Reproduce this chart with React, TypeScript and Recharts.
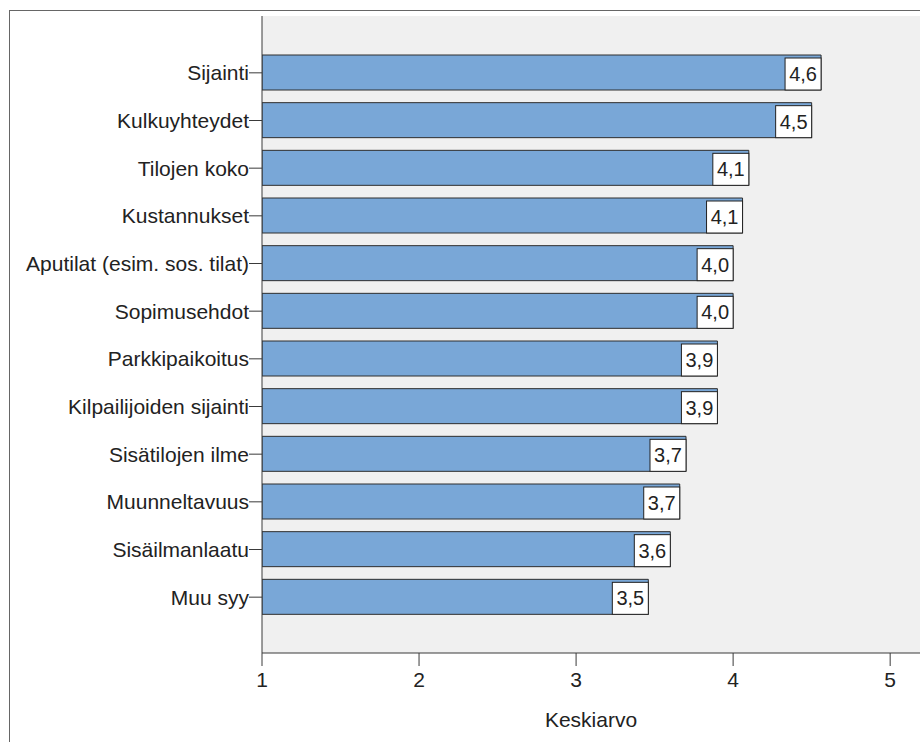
import { BarChart, Bar, XAxis, YAxis, CartesianGrid, LabelList } from 'recharts';

// Mean score per location factor
const factors = [
    'Sijainti',
    'Kulkuyhteydet',
    'Tilojen koko',
    'Kustannukset',
    'Aputilat (esim. sos. tilat)',
    'Sopimusehdot',
    'Parkkipaikoitus',
    'Kilpailijoiden sijainti',
    'Sisätilojen ilme',
    'Muunneltavuus',
    'Sisäilmanlaatu',
    'Muu syy',
];

const means = [4.56, 4.5, 4.1, 4.06, 4.0, 4.0, 3.9, 3.9, 3.7, 3.66, 3.6, 3.46];

const xTicks = [1, 2, 3, 4, 5];

const FONT = 'Arial, "Liberation Sans", sans-serif';
const BAR_COLOR = '#79a7d7';
const AXIS_COLOR = '#3a3a3a';

const data = factors.map((name, i) => ({ name, value: means[i] }));

const fmt = (v: number) => v.toFixed(1).replace('.', ',');

// White boxed value label sitting at the right end of each bar
function ValueBox(props: any) {
    const { x, y, width, height, value } = props;
    const boxW = 36;
    const right = x + width;
    const top = y + 3;
    const boxH = height - 3;
    return (
        <g>
            <rect x={right - boxW} y={top} width={boxW} height={boxH} fill="#fff" stroke="#222" strokeWidth={1} />
            <text
                x={right - boxW / 2}
                y={top + boxH / 2}
                textAnchor="middle"
                dominantBaseline="central"
                fontSize={20}
                fontFamily={FONT}
                fill="#222"
            >
                {fmt(value)}
            </text>
        </g>
    );
}

export default function App() {
    return (
        <div style={{ position: 'absolute', left: 0, top: 0, width: 920, height: 742, overflow: 'hidden', background: '#fff' }}>
            {/* outer frame */}
            <div
                style={{
                    position: 'absolute',
                    left: 9,
                    top: 10,
                    width: 1000,
                    height: 1000,
                    borderTop: '1px solid #666',
                    borderLeft: '1px solid #666',
                }}
            />
            <div style={{ position: 'absolute', left: 0, top: 0 }}>
                <BarChart
                    width={920}
                    height={742}
                    data={data}
                    layout="vertical"
                    margin={{ top: 16, right: 0, bottom: 15, left: 0 }}
                    style={{ fontFamily: FONT }}
                >
                    <CartesianGrid fill="#f0f0f0" horizontal={false} vertical={false} />
                    <XAxis
                        type="number"
                        domain={[1, 5.19]}
                        ticks={xTicks}
                        allowDataOverflow
                        height={74}
                        tickSize={13}
                        tickMargin={6}
                        stroke={AXIS_COLOR}
                        tick={{ fill: '#222', fontSize: 21, fontFamily: FONT }}
                        label={{ value: 'Keskiarvo', position: 'insideBottom', offset: 0, fill: '#222', fontSize: 21, fontFamily: FONT }}
                    />
                    <XAxis
                        xAxisId="top"
                        orientation="top"
                        type="number"
                        domain={[1, 5.19]}
                        height={0}
                        tick={false}
                        tickLine={false}
                        stroke="#9a9a9a"
                    />
                    <YAxis
                        type="category"
                        dataKey="name"
                        width={262}
                        padding={{ top: 33, bottom: 32 }}
                        tickSize={13}
                        tickMargin={0}
                        stroke={AXIS_COLOR}
                        interval={0}
                        tick={{ fill: '#222', fontSize: 21, fontFamily: FONT }}
                    />
                    <Bar dataKey="value" fill={BAR_COLOR} stroke="#2e2e2e" strokeWidth={1} barSize={35} isAnimationActive={false}>
                        <LabelList dataKey="value" content={<ValueBox />} />
                    </Bar>
                </BarChart>
            </div>
        </div>
    );
}
